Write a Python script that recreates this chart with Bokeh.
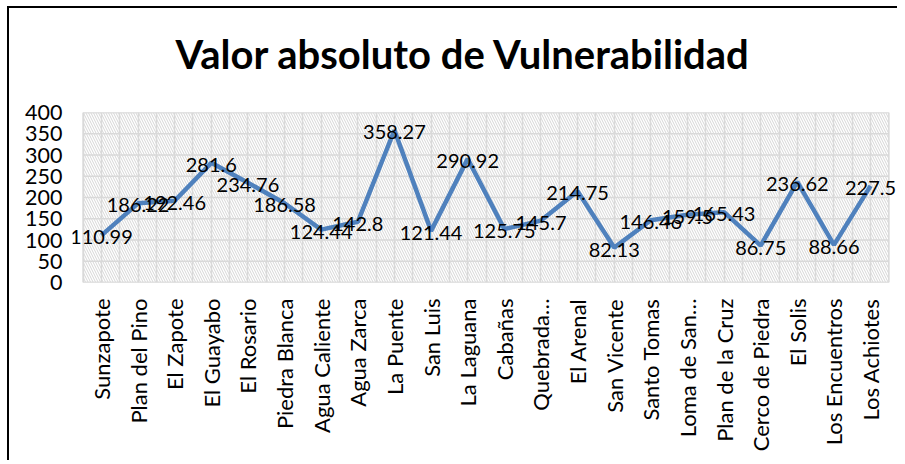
import math
from bokeh.plotting import figure
from bokeh.models import ColumnDataSource, FactorRange, Range1d, LabelSet, Title
from bokeh.transform import dodge
from bokeh.core.properties import value
from bokeh.embed import file_html
from bokeh.resources import INLINE

categories = ["Sunzapote", "Plan del Pino", "El Zapote", "El Guayabo", "El Rosario",
              "Piedra Blanca", "Agua Caliente", "Agua Zarca", "La Puente", "San Luis",
              "La Laguana", "Cabañas", "Quebrada…", "El Arenal", "San Vicente",
              "Santo Tomas", "Loma de San…", "Plan de la Cruz", "Cerco de Piedra",
              "El Solis", "Los Encuentros", "Los Achiotes"]
values = [110.99, 186.22, 192.46, 281.6, 234.76, 186.58, 124.44, 142.8, 358.27, 121.44,
          290.92, 125.75, 145.7, 214.75, 82.13, 146.46, 159.5, 165.43, 86.75, 236.62,
          88.66, 227.5]
value_labels = [f"{v:g}" for v in values]
y_ticks = [0, 50, 100, 150, 200, 250, 300, 350, 400]
title_text = "Valor absoluto de Vulnerabilidad"

FONT = "Lato"
GRID = "#d9d9d9"

src = ColumnDataSource(dict(cat=categories, val=values, lab=value_labels))
area_src = ColumnDataSource(dict(first=[categories[0]], last=[categories[-1]],
                                 bottom=[y_ticks[0]], top=[y_ticks[-1]]))
hgrid_src = ColumnDataSource(dict(first=[categories[0]] * len(y_ticks),
                                  last=[categories[-1]] * len(y_ticks), y=y_ticks))

xr = FactorRange(*categories, range_padding=0.29, range_padding_units="absolute")
p = figure(x_range=xr, y_range=Range1d(y_ticks[0], y_ticks[-1]),
           width=890, height=454, title_location=None,
           output_backend="svg", toolbar_location=None,
           min_border_left=63, min_border_right=0,
           min_border_top=104, min_border_bottom=180)
p.styles = {"border-top": "2px solid black", "border-left": "2px solid black",
            "margin-left": "7px", "margin-top": "6px"}

spacer = Title(text=" ", text_font_size="1px", standoff=27)
p.add_layout(spacer, "above")
main_title = Title(text=title_text, text_font=FONT, text_font_style="bold",
                   text_font_size="40px", text_color="black", align="left",
                   offset=103, standoff=10)
p.add_layout(main_title, "above")

p.background_fill_color = "white"
p.border_fill_color = "white"
p.outline_line_color = None

# plot area with hatched background
p.quad(left=dodge("first", -0.5, range=xr), right=dodge("last", 0.5, range=xr),
       bottom="bottom", top="top", source=area_src,
       fill_color="white", line_color=GRID, line_width=1.5,
       hatch_pattern="\\", hatch_color="#d6d6d6", hatch_scale=5, hatch_weight=1,
       level="image")

p.xgrid.grid_line_color = GRID
p.xgrid.grid_line_width = 1.5
p.ygrid.visible = False

p.segment(x0=dodge("first", -0.5, range=xr), x1=dodge("last", 0.5, range=xr),
          y0="y", y1="y", source=hgrid_src, line_color=GRID, line_width=1.5,
          level="underlay")
p.vspan(x=dodge("cat", -0.5, range=xr), source=src,
        line_color=GRID, line_width=1.5, level="underlay")

p.yaxis.ticker = y_ticks
p.yaxis.axis_line_color = None
p.yaxis.major_tick_line_color = None
p.yaxis.major_tick_out = 0
p.yaxis.minor_tick_line_color = None
p.yaxis.major_label_standoff = 10
p.yaxis.major_label_text_font = FONT
p.yaxis.major_label_text_font_size = "21.5px"
p.yaxis.major_label_text_color = "black"

p.xaxis.axis_line_color = None
p.xaxis.major_tick_line_color = None
p.xaxis.major_tick_out = 0
p.xaxis.major_label_orientation = math.pi / 2
p.xaxis.major_label_standoff = 16
p.xaxis.major_label_text_font = FONT
p.xaxis.major_label_text_font_size = "22px"
p.xaxis.major_label_text_color = "black"

p.line("cat", "val", source=src, line_color="#4F81BD", line_width=4.5)
labels = LabelSet(x="cat", y="val", text="lab", source=src, text_align="center",
                  text_baseline="middle", text_font=value(FONT), text_font_size="20px",
                  text_color="black", y_offset=-2)
p.add_layout(labels)

open("out.html", "w").write(file_html(p, INLINE))
